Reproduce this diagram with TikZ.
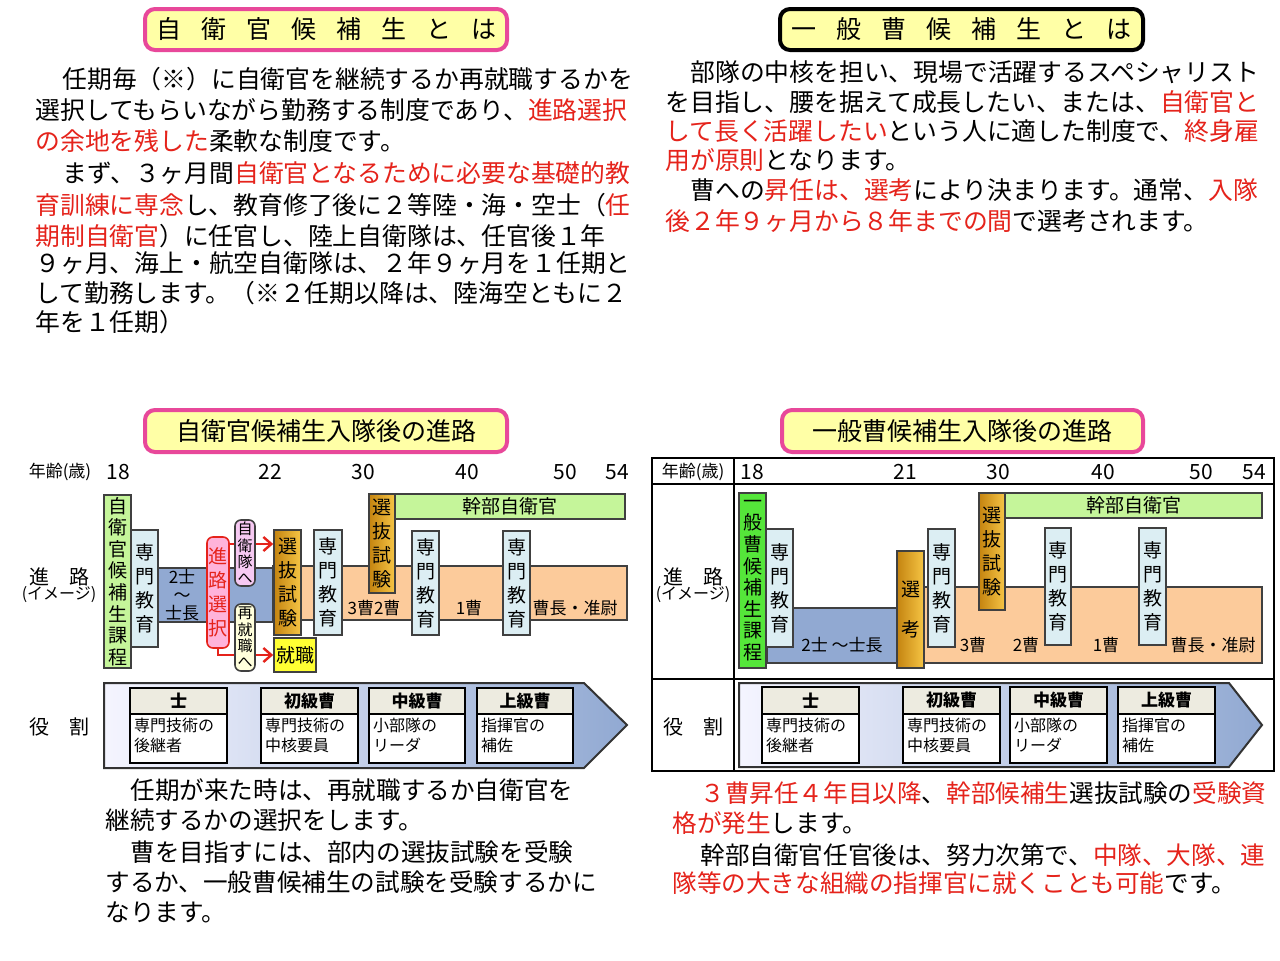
\documentclass[tikz,border=0pt]{standalone}
\usepackage{fontspec}
\setmainfont{Noto Sans CJK JP}
\usepackage{tikz}
\usetikzlibrary{arrows.meta}
\definecolor{redtxt}{HTML}{E5231B}
\definecolor{ttlfill}{HTML}{FFFFA6}
\definecolor{ttlpink}{HTML}{E8489A}
\definecolor{kgreen}{HTML}{C5F59A}
\definecolor{kgreen2}{HTML}{55E63A}
\definecolor{senmon}{HTML}{DCEEF3}
\definecolor{bband}{HTML}{91A9D2}
\definecolor{oband}{HTML}{FCCB9B}
\definecolor{goldL}{HTML}{C48410}
\definecolor{goldR}{HTML}{F6C545}
\definecolor{pinkbox}{HTML}{FFB3DA}
\definecolor{lilac}{HTML}{F6C9F2}
\definecolor{cream}{HTML}{FFFFDC}
\definecolor{yel}{HTML}{FFFF33}
\definecolor{rolehd}{HTML}{EDEBE0}
\newcommand\rd[1]{\textcolor{redtxt}{#1}}
% box from corners: \bx[style]{name}{x1}{y1}{x2}{y2}{text}
\newcommand\bx[7][]{\node[#1,minimum width={(#5-#3)*0.5pt},minimum height={(#6-#4)*0.5pt}] (#2) at ({(#3+#5)/2},{(#4+#6)/2}) {#7};}
\tikzset{ttl/.style={draw=ttlpink,line width=2pt,fill=ttlfill,rounded corners=5pt,inner sep=0pt,font=\fontsize{12.5}{13}\selectfont},
  para/.style={anchor=base west,inner sep=0pt,font=\fontsize{12.4}{13}\selectfont},
  parb/.style={anchor=base west,inner sep=0pt,font=\fontsize{12.3}{13}\selectfont},
  box/.style={draw=black!75,line width=0.8pt,inner sep=0pt,align=center,font=\fontsize{9.5}{12}\selectfont},
  vbox/.style={box,fill=senmon},
  gold/.style={box,left color=goldL,right color=goldR},
  small/.style={font=\fontsize{7.5}{8.2}\selectfont},
  lbl/.style={inner sep=0pt,font=\fontsize{10}{11}\selectfont},
  age/.style={inner sep=0pt,font=\fontsize{10.5}{11}\selectfont},
  band/.style={inner sep=0pt,font=\fontsize{8.5}{9}\selectfont},
  rhead/.style={draw=black,line width=1pt,fill=rolehd,inner sep=0pt,font=\bfseries\fontsize{8.5}{9}\selectfont},
  rbody/.style={draw=black,line width=1pt,fill=white,inner sep=0pt,align=left,font=\fontsize{8}{10}\selectfont},
  redarr/.style={draw=redtxt,line width=1.2pt,-{Straight Barb[length=4pt,width=7pt]}}}
\begin{document}
\begin{tikzpicture}[x=0.5pt,y=-0.5pt]
\useasboundingbox[fill=white] (0,0) rectangle (1280,960);
% titles
\bx[ttl]{t1}{145}{9}{507}{50}{自\hspace{0.8em}衛\hspace{0.8em}官\hspace{0.8em}候\hspace{0.8em}補\hspace{0.8em}生\hspace{0.8em}と\hspace{0.8em}は}
\bx[ttl,draw=black]{t2}{780}{9}{1143}{50}{一\hspace{0.8em}般\hspace{0.8em}曹\hspace{0.8em}候\hspace{0.8em}補\hspace{0.8em}生\hspace{0.8em}と\hspace{0.8em}は}
\bx[ttl]{t3}{145}{410}{507}{452}{自衛官候補生入隊後の進路}
\bx[ttl]{t4}{782}{410}{1143}{452}{一般曹候補生入隊後の進路}
% left paragraph
\node[para] (l1) at (62,88) {任期毎（※）に自衛官を継続するか再就職するかを};
\node[para] (l2) at (35,119) {選択してもらいながら勤務する制度であり、\rd{進路選択}};
\node[para] (l3) at (35,150) {\rd{の余地を残した}柔軟な制度です。};
\node[para] (l4) at (62,182) {まず、３ヶ月間\rd{自衛官となるために必要な基礎的教}};
\node[para] (l5) at (35,214) {\rd{育訓練に専念}し、教育修了後に２等陸・海・空士（\rd{任}};
\node[para] (l6) at (35,245) {\rd{期制自衛官}）に任官し、陸上自衛隊は、任官後１年};
\node[para] (l7) at (35,272) {９ヶ月、海上・航空自衛隊は、２年９ヶ月を１任期と};
\node[para] (l8) at (35,302) {して勤務します。（※２任期以降は、陸海空ともに２};
\node[para] (l9) at (35,331) {年を１任期）};
% right paragraph
\node[para] (r1) at (690,81) {部隊の中核を担い、現場で活躍するスペシャリスト};
\node[para] (r2) at (665,111) {を目指し、腰を据えて成長したい、または、\rd{自衛官と}};
\node[para] (r3) at (665,140) {\rd{して長く活躍したい}という人に適した制度で、\rd{終身雇}};
\node[para] (r4) at (665,169) {\rd{用が原則}となります。};
\node[para] (r5) at (690,199) {曹への\rd{昇任は、選考}により決まります。通常、\rd{入隊}};
\node[para] (r6) at (665,230) {\rd{後２年９ヶ月から８年までの間}で選考されます。};
% ---- left chart
\node[lbl,font=\fontsize{8.5}{9}\selectfont] (la) at (60,472) {年齢(歳)};
\foreach \a/\x in {18/118,22/270,30/363,40/467,50/565,54/617}
  \node[age] (la\a) at (\x,472) {\a};
\node[lbl] (lr) at (59,577) {進\hspace{1em}路};
\node[lbl,font=\fontsize{8}{9}\selectfont] (lri) at (59,595) {(イメージ)};
\node[lbl] (ly) at (59,727) {役\hspace{1em}割};
\bx[box,fill=bband]{lblue}{158}{568}{273}{622}{}
\node[band,align=center,font=\fontsize{8.5}{8.8}\selectfont] (l2s) at (182,595) {2士\\～\\士長};
\bx[box,fill=oband]{lor}{273}{566}{627}{620}{}
\node[band] (l3s) at (374,608) {3曹2曹};
\node[band] (l1s) at (469,608) {1曹};
\node[band] (lsc) at (575,608) {曹長・准尉};
\bx[box,fill=kgreen,font=\fontsize{9.5}{10.8}\selectfont]{lkt}{104}{495}{131}{668}{自\\衛\\官\\候\\補\\生\\課\\程}
\bx[vbox]{ls1}{131}{530}{158}{647}{専\\門\\教\\育}
\bx[box,fill=pinkbox,draw=redtxt,rounded corners=3pt,text=redtxt]{lsel}{207}{537}{229}{648}{進\\路\\選\\択}
\bx[gold]{lsb1}{274}{530}{301}{635}{選\\抜\\試\\験}
\bx[box,fill=yel]{lsyu}{274}{638}{316}{672}{就職}
\draw[redarr] (lsel.east |- 0,544) -- (lsb1.west |- 0,544);
\draw[redarr] (lsel.south) -- (lsel.south |- lsyu) -- (lsyu.west);
\bx[box,fill=lilac,rounded corners=3pt,small]{ljt}{235}{520}{255}{586}{自\\衛\\隊\\へ}
\bx[box,fill=cream,rounded corners=3pt,small]{lss}{235}{604}{255}{671}{再\\就\\職\\へ}
\bx[vbox]{ls2}{314}{530}{342}{635}{専\\門\\教\\育}
\bx[gold]{lsb2}{369}{494}{395}{593}{選\\抜\\試\\験}
\bx[box,fill=kgreen]{lkb}{395}{494}{625}{519}{幹部自衛官}
\bx[vbox]{ls3}{412}{531}{439}{635}{専\\門\\教\\育}
\bx[vbox]{ls4}{503}{531}{530}{635}{専\\門\\教\\育}
% role arrow
\shade[left color=blue!4,right color=bband,draw=black!80,line width=1pt] (104,683) -- (584,683) -- (627,725) -- (584,768) -- (104,768) -- cycle;
\foreach \n/\a/\b/\h/\p/\q in {a/130/227/士/専門技術の/後継者, b/261/358/初級曹/専門技術の/中核要員, c/369/465/中級曹/小部隊の/リーダ, d/477/573/上級曹/指揮官の/補佐}{
  \bx[rhead]{lh\n}{\a}{688}{\b}{714}{\h}
  \bx[rbody]{lb\n}{\a}{714}{\b}{763}{}
  \node[rbody,draw=none,fill=none,anchor=north west] (lt\n) at (\a+3,717) {\p\\\q};
}
% ---- right chart
\draw[line width=1.2pt] (652,458) rectangle (1274,771);
\draw[line width=1.2pt] (652,484) -- (1274,484) (652,679) -- (1274,679) (734,458) -- (734,771);
\node[lbl,font=\fontsize{8.5}{9}\selectfont] (ra) at (693,472) {年齢(歳)};
\foreach \a/\x in {18/752,21/905,30/998,40/1103,50/1201,54/1254}
  \node[age] (ra\a) at (\x,472) {\a};
\node[lbl] (rr) at (693,577) {進\hspace{1em}路};
\node[lbl,font=\fontsize{8}{9}\selectfont] (rri) at (693,595) {(イメージ)};
\node[lbl] (ry) at (693,727) {役\hspace{1em}割};
\bx[box,fill=bband]{rblue}{767}{608}{897}{663}{}
\node[band] (rsh) at (842,645) {2士 ～士長};
\bx[box,fill=oband]{ror}{924}{587}{1262}{663}{}
\node[band] (r3s) at (973,645) {3曹};
\node[band] (r2s) at (1026,645) {2曹};
\node[band] (r1s) at (1106,645) {1曹};
\node[band] (rsc) at (1213,645) {曹長・准尉};
\bx[box,fill=kgreen2,font=\fontsize{9.5}{10.8}\selectfont]{rkt}{739}{493}{766}{668}{一\\般\\曹\\候\\補\\生\\課\\程}
\bx[vbox]{rs1}{766}{529}{793}{647}{専\\門\\教\\育}
\bx[gold,font=\fontsize{9.5}{20}\selectfont]{rsk}{897}{551}{924}{668}{選\\考}
\bx[vbox]{rs2}{928}{529}{955}{647}{専\\門\\教\\育}
\bx[gold]{rsb}{979}{493}{1005}{610}{選\\抜\\試\\験}
\bx[box,fill=kgreen]{rkb}{1005}{493}{1262}{518}{幹部自衛官}
\bx[vbox]{rs3}{1045}{528}{1071}{645}{専\\門\\教\\育}
\bx[vbox]{rs4}{1139}{528}{1166}{645}{専\\門\\教\\育}
\shade[left color=blue!4,right color=bband,draw=black!80,line width=1pt] (739,683) -- (1229,683) -- (1262,725) -- (1229,767) -- (739,767) -- cycle;
\foreach \n/\a/\b/\h/\p/\q in {a/762/859/士/専門技術の/後継者, b/903/1000/初級曹/専門技術の/中核要員, c/1010/1107/中級曹/小部隊の/リーダ, d/1118/1215/上級曹/指揮官の/補佐}{
  \bx[rhead]{rh\n}{\a}{687}{\b}{714}{\h}
  \bx[rbody]{rb\n}{\a}{714}{\b}{763}{}
  \node[rbody,draw=none,fill=none,anchor=north west] (rt\n) at (\a+3,717) {\p\\\q};
}
% bottom texts
\node[parb] (bl1) at (130,799) {任期が来た時は、再就職するか自衛官を};
\node[parb] (bl2) at (105,829) {継続するかの選択をします。};
\node[parb] (bl3) at (130,861) {曹を目指すには、部内の選抜試験を受験};
\node[parb] (bl4) at (105,891) {するか、一般曹候補生の試験を受験するかに};
\node[parb] (bl5) at (105,921) {なります。};
\node[parb] (br1) at (700,802) {\rd{３曹昇任４年目以降}、\rd{幹部候補生}選抜試験の\rd{受験資}};
\node[parb] (br2) at (672,832) {\rd{格が発生}します。};
\node[parb] (br3) at (700,864) {幹部自衛官任官後は、努力次第で、\rd{中隊、大隊、連}};
\node[parb] (br4) at (672,892) {\rd{隊等の大きな組織の指揮官に就くことも可能}です。};
\end{tikzpicture}
\end{document}
